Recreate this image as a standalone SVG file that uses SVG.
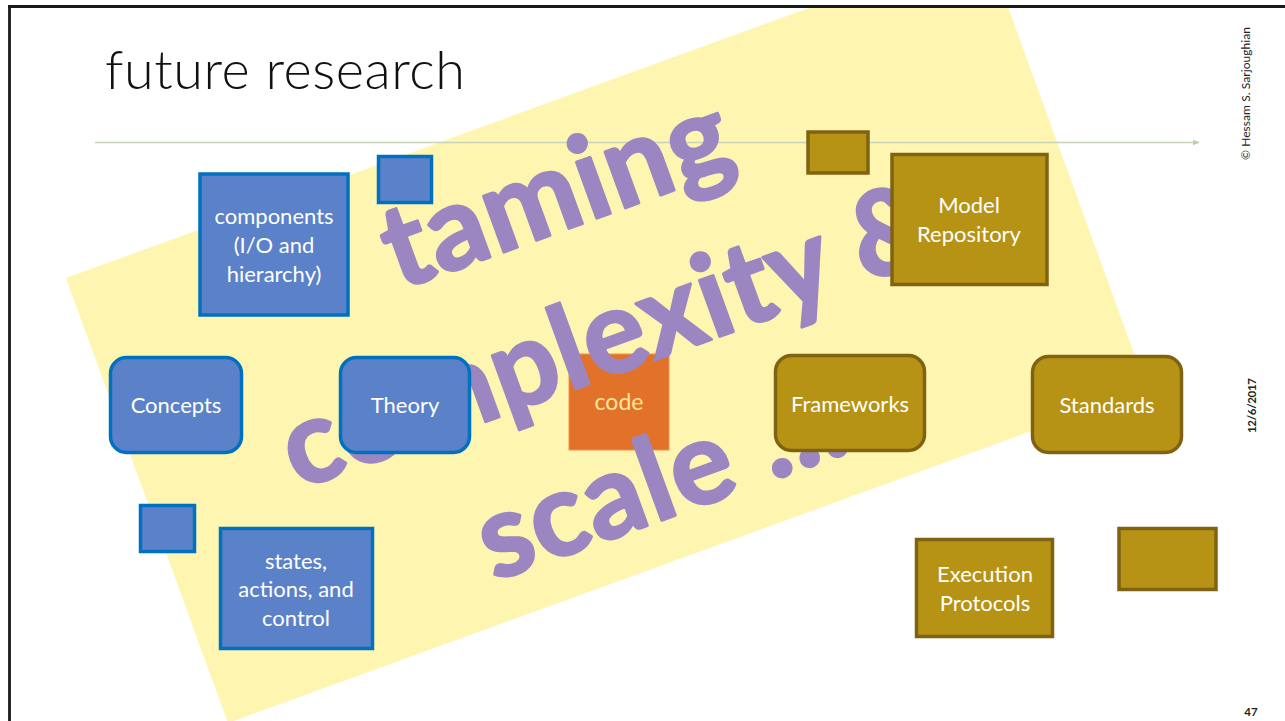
<svg xmlns="http://www.w3.org/2000/svg" width="1285" height="721" viewBox="0 0 1285 721">
  <defs>
    <style>
      .blue { fill: #5B82C8; stroke: #0070C0; stroke-width: 3.5; }
      .gold { fill: #B79315; stroke: #7F6312; stroke-width: 3.5; }
      .lbl { font-family: Lato, "Open Sans", "Liberation Sans", sans-serif; font-size: 22px; fill: #ffffff; text-anchor: middle; }
      .big { font-family: Lato, "Open Sans", "Liberation Sans", sans-serif; font-weight: 700; font-size: 116px; fill: #9C86C2; text-anchor: middle; stroke: #9C86C2; stroke-width: 3; stroke-linejoin: round; }
      .side { font-family: Lato, "Open Sans", "Liberation Sans", sans-serif; fill: #222222; }
    </style>
    <clipPath id="page">
      <rect x="9" y="6" width="1276" height="715"/>
    </clipPath>
    <marker id="arr" viewBox="0 0 10 10" refX="9" refY="5" markerWidth="7" markerHeight="7" markerUnits="userSpaceOnUse" orient="auto">
      <path d="M0,1 L10,5 L0,9 Z" fill="#BFCBAF"/>
    </marker>
  </defs>

  <rect x="0" y="0" width="1285" height="721" fill="#ffffff"/>

  <!-- yellow rotated banner -->
  <g id="banner" clip-path="url(#page)">
    <polygon points="66,278 985,-56 1147,389 228,723" fill="#FEF6B0"/>
  </g>

  <!-- title rule -->
  <g id="title-rule">
    <line x1="95" y1="142.5" x2="1199" y2="142.5" stroke="#C8D4B9" stroke-width="1.5" marker-end="url(#arr)"/>
  </g>

  <!-- frame -->
  <g id="frame">
    <line x1="8" y1="6.5" x2="1285" y2="6.5" stroke="#1a1a1a" stroke-width="2.8"/>
    <line x1="9.5" y1="5" x2="9.5" y2="721" stroke="#1a1a1a" stroke-width="2.8"/>
  </g>

  <!-- title -->
  <text id="title" x="105" y="89" font-family="Lato, 'Open Sans', 'Liberation Sans', sans-serif" font-weight="300" font-size="54" fill="#111111" textLength="360">future research</text>

  <!-- code node (below the watermark text) -->
  <g id="node-code">
    <rect x="569" y="354" width="100" height="96" fill="#E2722A" stroke="#EE9150" stroke-width="1"/>
    <text class="lbl" x="619" y="410" style="fill:#FFE699;font-size:23px">code</text>
  </g>

  <!-- watermark text -->
  <g id="watermark" transform="translate(397,291) rotate(-20)">
    <text class="big" x="183" y="0" textLength="362">taming</text>
    <text class="big" x="183" y="153" textLength="688">complexity &amp;</text>
    <text class="big" x="183" y="306" textLength="382">scale ...</text>
  </g>

  <!-- blue nodes -->
  <g id="node-small-blue-top">
    <rect class="blue" x="378.5" y="156.5" width="53" height="46"/>
  </g>
  <g id="node-components">
    <rect class="blue" x="200" y="174" width="148" height="141"/>
    <text class="lbl" x="274" y="224">components</text>
    <text class="lbl" x="274" y="253">(I/O and</text>
    <text class="lbl" x="274" y="282">hierarchy)</text>
  </g>
  <g id="node-concepts">
    <rect class="blue" x="110.5" y="357.5" width="131" height="95" rx="16"/>
    <text class="lbl" x="176" y="413">Concepts</text>
  </g>
  <g id="node-theory">
    <rect class="blue" x="340.5" y="357.5" width="129" height="95" rx="16"/>
    <text class="lbl" x="405" y="413">Theory</text>
  </g>
  <g id="node-small-blue-left">
    <rect class="blue" x="140.5" y="505.5" width="54" height="46"/>
  </g>
  <g id="node-states">
    <rect class="blue" x="220.5" y="528.5" width="152" height="120"/>
    <text class="lbl" x="296" y="569">states,</text>
    <text class="lbl" x="296" y="597">actions, and</text>
    <text class="lbl" x="296" y="626">control</text>
  </g>

  <!-- gold nodes -->
  <g id="node-small-gold-top">
    <rect class="gold" x="808" y="132" width="60" height="41"/>
  </g>
  <g id="node-model-repository">
    <rect class="gold" x="892" y="154.5" width="155" height="130"/>
    <text class="lbl" x="969" y="213">Model</text>
    <text class="lbl" x="969" y="242">Repository</text>
  </g>
  <g id="node-frameworks">
    <rect class="gold" x="775.5" y="355.5" width="149" height="95" rx="16"/>
    <text class="lbl" x="850" y="412">Frameworks</text>
  </g>
  <g id="node-standards">
    <rect class="gold" x="1032.5" y="356.5" width="149" height="96" rx="16"/>
    <text class="lbl" x="1107" y="413">Standards</text>
  </g>
  <g id="node-execution-protocols">
    <rect class="gold" x="916.5" y="539.5" width="136" height="97"/>
    <text class="lbl" x="985" y="582">Execution</text>
    <text class="lbl" x="985" y="611">Protocols</text>
  </g>
  <g id="node-small-gold-right">
    <rect class="gold" x="1119" y="528.5" width="97" height="61"/>
  </g>

  <!-- side texts -->
  <text class="side" font-size="12" transform="translate(1250,160) rotate(-90)" textLength="133">© Hessam S. Sarjoughian</text>
  <text class="side" font-size="11.5" font-weight="700" transform="translate(1256,433) rotate(-90)" textLength="55">12/6/2017</text>
  <text class="side" font-size="11.5" font-weight="700" x="1251" y="716" text-anchor="middle">47</text>
</svg>
